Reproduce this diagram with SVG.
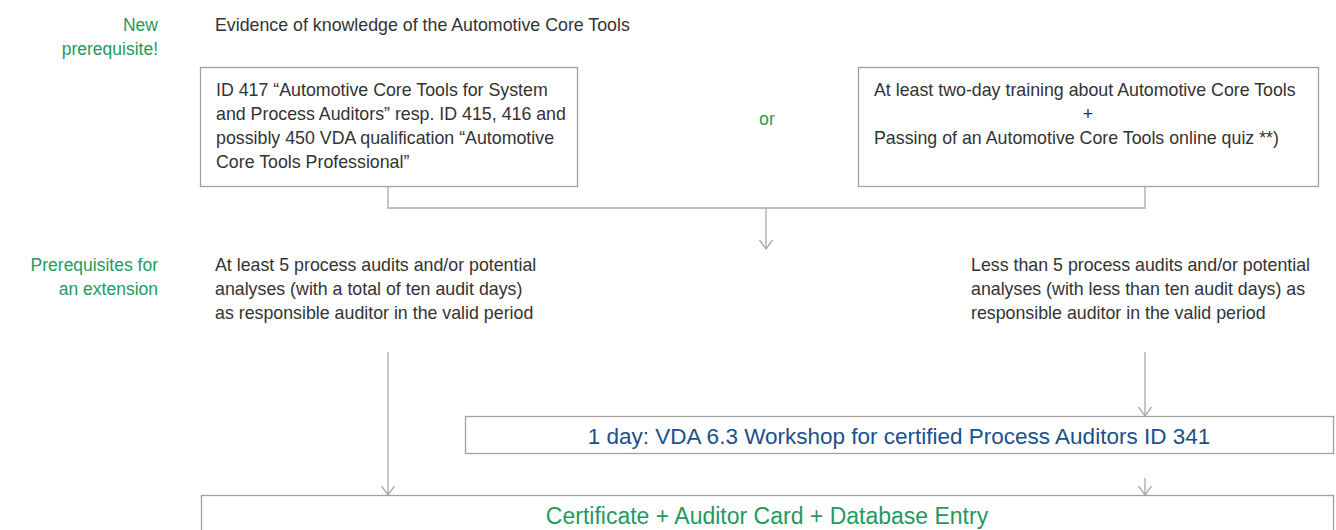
<svg xmlns="http://www.w3.org/2000/svg" width="1336" height="530" viewBox="0 0 1336 530">
<defs>
<style>
text{font-family:"Liberation Sans",Arial,sans-serif;font-size:17.8px;fill:#333}
.g{fill:#1f9a5e}
.r{text-anchor:end}
.m{text-anchor:middle}
.box{fill:#fff;stroke:#a0a0a0;stroke-width:1.3}
.ln{fill:none;stroke:#a8a8a8;stroke-width:1.3}
</style>
<marker id="ah" viewBox="0 0 10 14" refX="9.5" refY="7" markerWidth="10" markerHeight="14" markerUnits="userSpaceOnUse" orient="auto">
<path d="M0.5,0.5 L9.5,7 L0.5,13.5" fill="none" stroke="#a8a8a8" stroke-width="1.3"/>
</marker>
</defs>
<rect width="1336" height="530" fill="#fff"/>
<g id="labels">
<text class="g r" x="158" y="31" style="font-size:17.5px">New</text>
<text class="g r" x="158" y="55" style="font-size:17.5px">prerequisite!</text>
<text x="215" y="31">Evidence of knowledge of the Automotive Core Tools</text>
<text class="g r" x="158" y="271" style="font-size:17.5px">Prerequisites for</text>
<text class="g r" x="158" y="295" style="font-size:17.5px">an extension</text>
<text class="g m" x="767" y="125">or</text>
</g>
<g id="connectors">
<path class="ln" d="M388,186 V208 H1145 V186"/>
<path class="ln" d="M766,208 V249" marker-end="url(#ah)"/>
<path class="ln" d="M388,352 V495" marker-end="url(#ah)"/>
<path class="ln" d="M1145,352 V416" marker-end="url(#ah)"/>
<path class="ln" d="M1145,478 V495" marker-end="url(#ah)"/>
</g>
<g id="node-ct417">
<rect class="box" x="200.5" y="67.5" width="377" height="119"/>
<text x="216" y="96">ID 417 “Automotive Core Tools for System</text>
<text x="216" y="120">and Process Auditors” resp. ID 415, 416 and</text>
<text x="216" y="144">possibly 450 VDA qualification “Automotive</text>
<text x="216" y="168">Core Tools Professional”</text>
</g>
<g id="node-training">
<rect class="box" x="858.5" y="67.5" width="460" height="119"/>
<text x="874" y="96">At least two-day training about Automotive Core Tools</text>
<text class="m" x="1088" y="120">+</text>
<text x="874" y="144">Passing of an Automotive Core Tools online quiz **)</text>
</g>
<g id="node-atleast5">
<text x="215" y="271">At least 5 process audits and/or potential</text>
<text x="215" y="295">analyses (with a total of ten audit days)</text>
<text x="215" y="319">as responsible auditor in the valid period</text>
</g>
<g id="node-lessthan5">
<text x="971" y="271">Less than 5 process audits and/or potential</text>
<text x="971" y="295">analyses (with less than ten audit days) as</text>
<text x="971" y="319">responsible auditor in the valid period</text>
</g>
<g id="node-workshop">
<rect class="box" x="465.5" y="416.5" width="868" height="37"/>
<text class="m" x="899" y="444" style="font-size:22.5px;fill:#1b4f8e">1 day: VDA 6.3 Workshop for certified Process Auditors ID 341</text>
</g>
<g id="node-certificate">
<rect class="box" x="201.5" y="495.5" width="1132" height="40"/>
<text class="m g" x="767" y="524" style="font-size:23px">Certificate + Auditor Card + Database Entry</text>
</g>
</svg>
